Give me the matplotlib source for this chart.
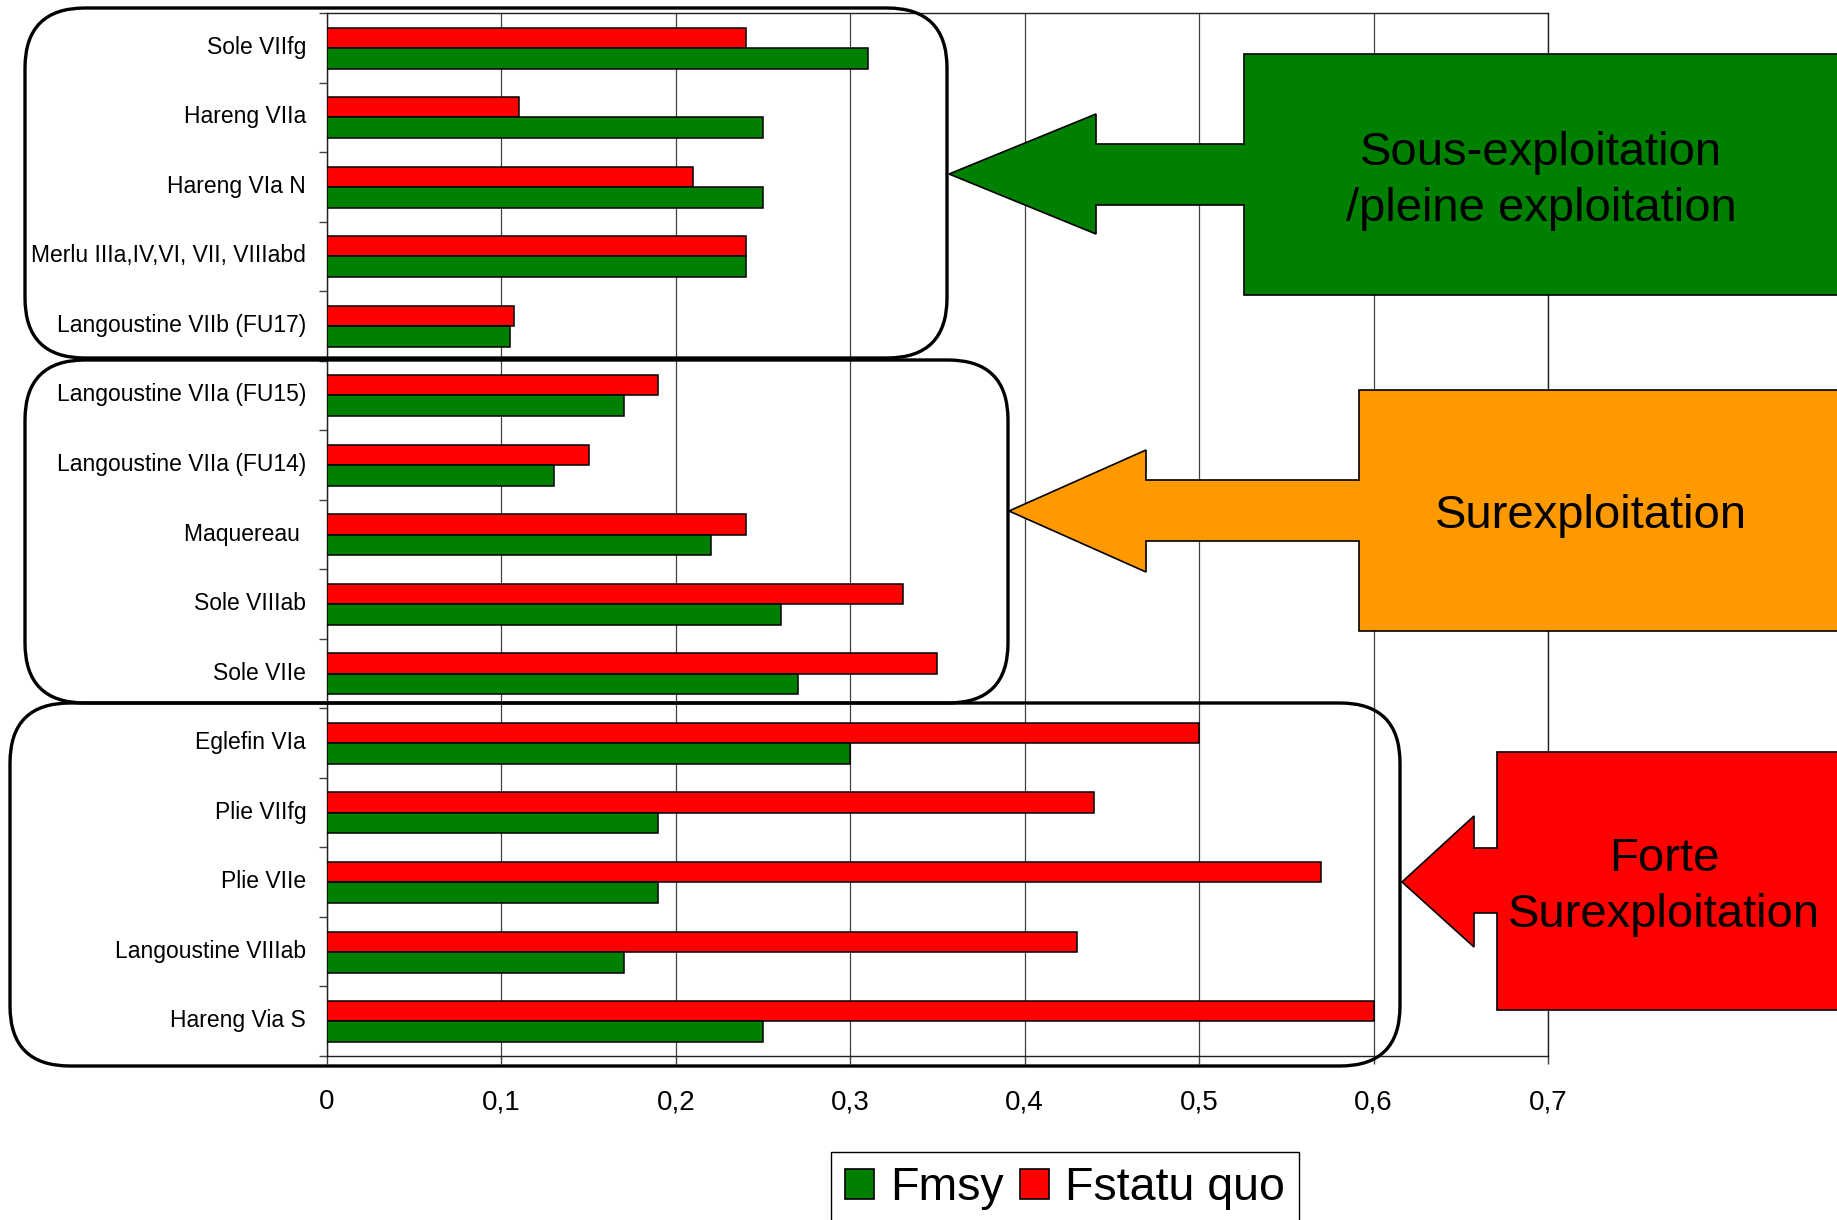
import matplotlib
matplotlib.use('Agg')
import matplotlib.pyplot as plt
import matplotlib.transforms as mtransforms
import numpy as np
from matplotlib.patches import FancyBboxPatch, Polygon, Patch

plt.rcParams['font.family'] = ['Liberation Sans', 'DejaVu Sans']

# ---------------- data ----------------
categories = ["Sole VIIfg", "Hareng VIIa", "Hareng VIa N",
              "Merlu IIIa,IV,VI, VII, VIIIabd", "Langoustine VIIb (FU17)",
              "Langoustine VIIa (FU15)", "Langoustine VIIa (FU14)", "Maquereau ",
              "Sole VIIIab", "Sole VIIe", "Eglefin VIa", "Plie VIIfg", "Plie VIIe",
              "Langoustine VIIIab", "Hareng Via S"]
fmsy = [0.31, 0.25, 0.25, 0.24, 0.105, 0.17, 0.13, 0.22, 0.26, 0.27,
        0.30, 0.19, 0.19, 0.17, 0.25]
fstatu_quo = [0.24, 0.11, 0.21, 0.24, 0.107, 0.19, 0.15, 0.24, 0.33, 0.35,
              0.50, 0.44, 0.57, 0.43, 0.60]
xtick_values = [0, 0.1, 0.2, 0.3, 0.4, 0.5, 0.6, 0.7]
xtick_labels = ["0", "0,1", "0,2", "0,3", "0,4", "0,5", "0,6", "0,7"]
series_names = ["Fmsy", "Fstatu quo"]
group_labels = ["Sous-exploitation\n/pleine exploitation", "Surexploitation",
                "Forte\nSurexploitation"]

GREEN = '#008000'
RED = '#FF0000'
ORANGE = '#FF9900'

W, H = 1837, 1220
fig = plt.figure(figsize=(W / 100, H / 100), dpi=100)
fig.patch.set_facecolor('white')

# main plot area (pixel geometry of the reference)
L, R, T, B = 327, 1548, 13, 1056
ax = fig.add_axes([L / W, 1 - B / H, (R - L) / W, (B - T) / H])

y = np.arange(len(categories))
ax.barh(y - 0.145, fstatu_quo, height=0.29, color=RED, edgecolor='black',
        linewidth=1.1, zorder=3)
ax.barh(y + 0.15, fmsy, height=0.30, color=GREEN, edgecolor='black',
        linewidth=1.1, zorder=3)

ax.set_xlim(0, 0.7)
ax.set_ylim(len(categories) - 0.5, -0.5)
ax.set_xticks(xtick_values)
ax.set_xticklabels(xtick_labels, fontsize=20)
ax.set_yticks(y)
ax.set_yticklabels(categories, fontsize=16.5)
ax.set_yticks(np.arange(-0.5, len(categories), 1), minor=True)
ax.tick_params(axis='y', which='major', length=0, pad=15)
ax.tick_params(axis='y', which='minor', length=6, width=1, color='#404040',
               direction='out')
ax.tick_params(axis='x', which='major', length=6, width=1, color='#404040',
               direction='out', pad=18)
ax.grid(axis='x', color='#404040', linewidth=0.9, zorder=0)
ax.set_axisbelow(True)
for s in ax.spines.values():
    s.set_color('#202020')
    s.set_linewidth(1.0)

# nudge y labels up slightly, as in the reference
shift = mtransforms.ScaledTranslation(0, 3 / 100, fig.dpi_scale_trans)
for lab in ax.get_yticklabels():
    lab.set_transform(lab.get_transform() + shift)

# legend
handles = [Patch(facecolor=GREEN, edgecolor='black', linewidth=1.2),
           Patch(facecolor=RED, edgecolor='black', linewidth=1.2)]
leg = fig.legend(handles, series_names, loc='upper left',
                 bbox_to_anchor=(831 / W, 1 - 1152 / H), ncol=2, fontsize=33.5,
                 frameon=True, fancybox=False, edgecolor='black', framealpha=1,
                 borderpad=0.3, handlelength=0.62, handleheight=0.62,
                 handletextpad=0.35, columnspacing=0.35, borderaxespad=0)
leg.get_frame().set_linewidth(1.0)

# overlay in pixel coordinates for the annotations
ov = fig.add_axes([0, 0, 1, 1])
ov.set_xlim(0, W)
ov.set_ylim(H, 0)
ov.axis('off')
ov.patch.set_alpha(0)

# rounded group boxes
for (x0, y0, x1, y1) in [(25, 8, 947, 358), (25, 360, 1008, 703),
                         (10, 703, 1400, 1066)]:
    ov.add_patch(FancyBboxPatch((x0, y0), x1 - x0, y1 - y0,
                                boxstyle='round,pad=0,rounding_size=60',
                                fill=False, linewidth=2.4, edgecolor='black'))


def callout(left, top, bottom, s_top, s_bot, base, h_top, h_bot, tip, color):
    pts = [(W + 20, top), (left, top), (left, s_top), (base, s_top),
           (base, h_top), tip, (base, h_bot), (base, s_bot), (left, s_bot),
           (left, bottom), (W + 20, bottom)]
    ov.add_patch(Polygon(pts, closed=True, facecolor=color, edgecolor='black',
                         linewidth=1.2))


callout(1244, 54, 295, 144, 205, 1096, 114, 234, (949, 174), GREEN)
callout(1359, 390, 631, 480, 541, 1146, 450, 572, (1009, 511), ORANGE)
callout(1497, 752, 1010, 848, 913, 1474, 816, 947, (1402, 882), RED)

ov.text(1541, 181, group_labels[0], ha='center', va='center', fontsize=34,
        linespacing=1.37)
ov.text(1591, 516, group_labels[1], ha='center', va='center', fontsize=34)
ov.text(1664, 887, group_labels[2], ha='center', va='center', fontsize=34,
        linespacing=1.37)

fig.savefig('out.png', dpi=100)
